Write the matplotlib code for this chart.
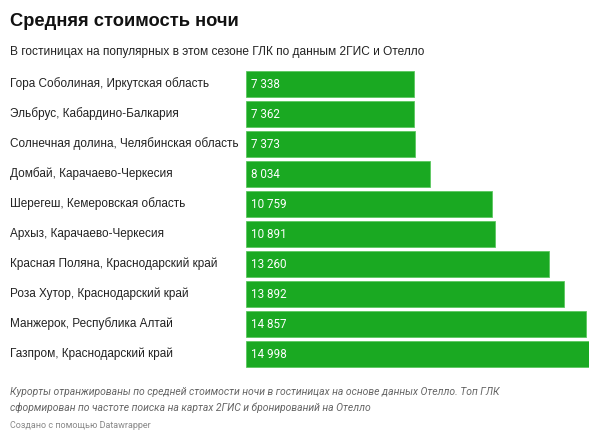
import matplotlib
matplotlib.use("Agg")
import matplotlib.pyplot as plt

# data
resorts = [
    "Гора Соболиная, Иркутская область",
    "Эльбрус, Кабардино-Балкария",
    "Солнечная долина, Челябинская область",
    "Домбай, Карачаево-Черкесия",
    "Шерегеш, Кемеровская область",
    "Архыз, Карачаево-Черкесия",
    "Красная Поляна, Краснодарский край",
    "Роза Хутор, Краснодарский край",
    "Манжерок, Республика Алтай",
    "Газпром, Краснодарский край",
]
prices = [7338, 7362, 7373, 8034, 10759, 10891, 13260, 13892, 14857, 14998]

W, H = 600, 440
fig = plt.figure(figsize=(W / 100, H / 100), dpi=100)

# axes placed in pixel terms
left, right, top, bottom = 246, 589, 69, 369
ax = fig.add_axes([left / W, 1 - bottom / H, (right - left) / W, (bottom - top) / H])

ypos = list(range(len(resorts)))
ax.barh(ypos, prices, height=0.87, color="#1aa922", edgecolor="#5cc860", linewidth=0.6)
ax.set_xlim(0, max(prices))
ax.set_ylim(len(resorts) - 0.5, -0.5)
ax.axis("off")

for y, v in zip(ypos, prices):
    lab = f"{v:,}".replace(",", " ")
    ax.text(220, y, lab, color="white", va="center", ha="left",
            fontsize=8.4, family="Roboto")

for y, name in zip(ypos, resorts):
    ax.annotate(name, xy=(0, y), xycoords=("axes fraction", "data"),
                xytext=((10 - left) * 0.72, 0), textcoords="offset points",
                va="center", ha="left", fontsize=8.5, family="Liberation Sans", color="#222222")

fig.text(10 / W, 1 - 22 / H, "Средняя стоимость ночи", fontsize=13.2, fontweight="bold",
         family="Liberation Sans", va="center", ha="left", color="#111111")
fig.text(10 / W, 1 - 52 / H, "В гостиницах на популярных в этом сезоне ГЛК по данным 2ГИС и Отелло",
         fontsize=8.6, family="Liberation Sans", va="center", ha="left", color="#222222")
fig.text(10 / W, 1 - 392 / H,
         "Курорты отранжированы по средней стоимости ночи в гостиницах на основе данных Отелло. Топ ГЛК",
         fontsize=7.5, family="Roboto", style="italic", va="center", ha="left", color="#666666")
fig.text(10 / W, 1 - 408 / H,
         "сформирован по частоте поиска на картах 2ГИС и бронирований на Отелло",
         fontsize=7.5, family="Roboto", style="italic", va="center", ha="left", color="#666666")
fig.text(10 / W, 1 - 425 / H, "Создано с помощью Datawrapper",
         fontsize=6.5, family="Roboto", va="center", ha="left", color="#888888")

fig.savefig("out.png", dpi=100, facecolor="white")
